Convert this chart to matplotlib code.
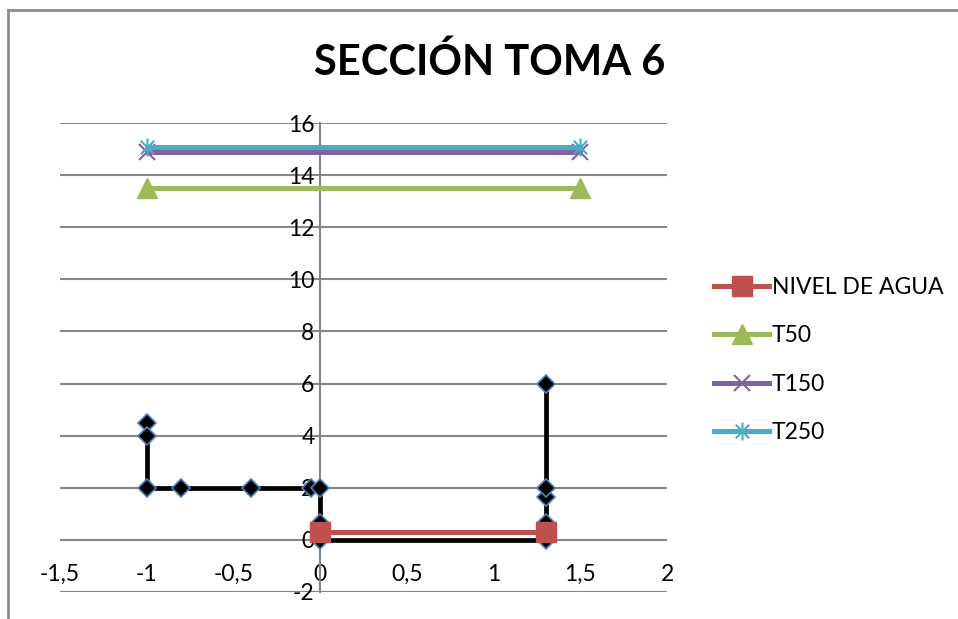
import matplotlib
matplotlib.use("Agg")
import matplotlib.pyplot as plt
from matplotlib.lines import Line2D
from matplotlib.path import Path

plt.rcParams['font.family'] = ['Lato', 'DejaVu Sans']

# perfil del terreno
terreno_x = [-1, -1, -1, -0.8, -0.4, -0.05, 0, 0, 0, 1.3, 1.3, 1.3, 1.3, 1.3]
terreno_y = [4.5, 4, 2, 2, 2, 2, 2, 0.65, 0, 0, 0.65, 1.65, 2, 6]

# nivel de agua y crecidas
nivel_x = [0, 1.3]
nivel_y = [0.3, 0.3]
crecida_x = [-1, 1.5]
t50_y = [13.5, 13.5]
t150_y = [14.9, 14.9]
t250_y = [15.07, 15.07]

x_ticks = [-1.5, -1, -0.5, 0, 0.5, 1, 1.5, 2]
y_ticks = [-2, 0, 2, 4, 6, 8, 10, 12, 14, 16]

# asterisco tipo excel (x + linea vertical)
estrella = Path(
    [(0, -1), (0, 1), (-0.75, -0.75), (0.75, 0.75), (-0.75, 0.75), (0.75, -0.75)],
    [Path.MOVETO, Path.LINETO, Path.MOVETO, Path.LINETO, Path.MOVETO, Path.LINETO],
)

fig = plt.figure(figsize=(9.58, 6.19), dpi=100)
ax = fig.add_axes([60 / 958, 1 - 592 / 619, (667 - 60) / 958, (592 - 123) / 619])

ax.plot(terreno_x, terreno_y, color="black", lw=3.4, marker="D", ms=9,
        mfc="black", mec="#4F81BD", mew=1.2, label="_nolegend_", zorder=3)
ax.plot(nivel_x, nivel_y, color="#C0504D", lw=3.6, marker="s", ms=14,
        mec="#C0504D", label="NIVEL DE AGUA", zorder=4)
ax.plot(crecida_x, t50_y, color="#9BBB59", lw=3.6, marker="^", ms=14,
        mec="#9BBB59", label="T50", zorder=4)
ax.plot(crecida_x, t150_y, color="#8064A2", lw=3.6, marker="x", ms=12,
        mew=1.5, label="T150", zorder=4)
ax.plot(crecida_x, t250_y, color="#4BACC6", lw=3.6, marker=estrella, ms=13,
        mew=1.5, label="T250", zorder=4)

ax.set_xlim(-1.5, 2)
ax.set_ylim(-2, 16)
ax.set_xticks(x_ticks)
ax.set_xticklabels([f"{v:g}".replace(".", ",") for v in x_ticks])
ax.set_yticks(y_ticks)
ax.set_yticklabels([str(v) for v in y_ticks])

ax.grid(axis="y", color="#868686", lw=1.5)
ax.set_axisbelow(True)
for s in ["top", "right", "bottom"]:
    ax.spines[s].set_visible(False)
ax.spines["left"].set_position(("data", 0))
ax.spines["left"].set_color("#868686")
ax.spines["left"].set_linewidth(1.5)
ax.tick_params(axis="both", length=0, labelsize=16.5, colors="black")
ax.tick_params(axis="x", pad=-20)
ax.tick_params(axis="y", pad=4)

fig.text(490 / 958, 1 - 62 / 619, "SECCIÓN TOMA 6", ha="center", va="center",
         fontsize=30, fontweight="bold")

ax.legend(loc="center left", bbox_to_anchor=(714 / 958, 1 - 360 / 619),
          bbox_transform=fig.transFigure, frameon=False, fontsize=16.5,
          handlelength=2.4, handletextpad=0.13, labelspacing=1.2, borderpad=0,
          borderaxespad=0)

# marco del grafico
fig.add_artist(Line2D([8 / 958, 1.0], [1 - 10 / 619, 1 - 10 / 619],
                      transform=fig.transFigure, color="#8C8C8C", lw=2))
fig.add_artist(Line2D([8 / 958, 8 / 958], [0.0, 1 - 10 / 619],
                      transform=fig.transFigure, color="#8C8C8C", lw=2))

fig.savefig("out.png", dpi=100)
